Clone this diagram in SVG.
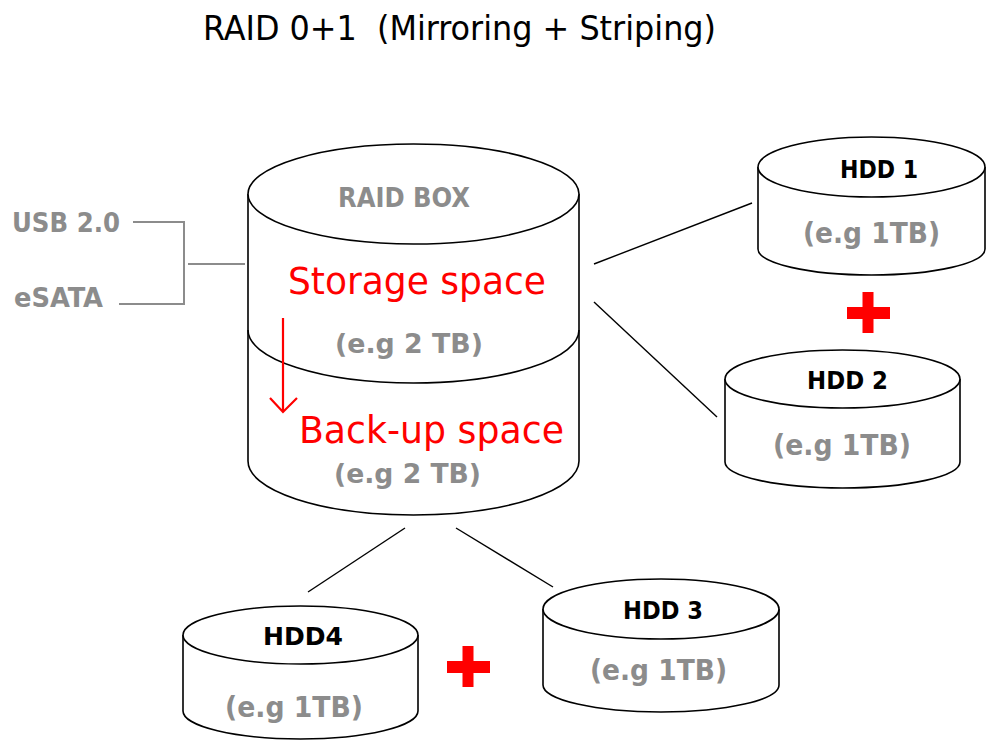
<svg xmlns="http://www.w3.org/2000/svg" width="987" height="740" viewBox="0 0 987 740">
<defs>
<style>
text{font-family:"DejaVu Sans Condensed","DejaVu Sans","Liberation Sans",sans-serif;}
.title{font-size:34px;fill:#000;white-space:pre;}
.gray{font-weight:bold;fill:#8c8c8c;}
.red{fill:#ff0000;font-size:37px;}
.hdd{font-weight:bold;fill:#000;font-size:25px;}
.cyl{fill:none;stroke:#000;stroke-width:1.6;}
.top{fill:#fff;stroke:#000;stroke-width:1.6;}
.conn{fill:none;stroke:#000;stroke-width:1.4;}
.gconn{fill:none;stroke:#8c8c8c;stroke-width:2;}
.plus{fill:#ff0000;}
</style>
</defs>
<rect width="987" height="740" fill="#fff"/>

<g id="title">
<text class="title" x="203" y="40" textLength="513" lengthAdjust="spacingAndGlyphs">RAID 0+1  (Mirroring + Striping)</text>
</g>

<g id="connectors">
<path class="gconn" d="M133,222 H184 V304 H119"/>
<path class="gconn" d="M188,264 H245"/>
<line class="conn" x1="594" y1="264" x2="752" y2="203"/>
<line class="conn" x1="594" y1="302" x2="717" y2="417"/>
<line class="conn" x1="405" y1="528" x2="308" y2="592"/>
<line class="conn" x1="456" y1="528" x2="553" y2="587"/>
</g>

<g id="usb">
<text class="gray" x="12" y="232" font-size="26" textLength="108" lengthAdjust="spacingAndGlyphs">USB 2.0</text>
</g>
<g id="esata">
<text class="gray" x="14" y="307" font-size="26" textLength="89" lengthAdjust="spacingAndGlyphs">eSATA</text>
</g>

<g id="raid-box">
<path class="cyl" d="M248,194 V461 M579,194 V461"/>
<path class="cyl" d="M248,330 A165.5,53 0 0 0 579,330"/>
<path class="cyl" d="M248,461 A165.5,54 0 0 0 579,461"/>
<ellipse class="top" cx="413.5" cy="194" rx="165.5" ry="50"/>
<text class="gray" x="338" y="207" font-size="26" textLength="132" lengthAdjust="spacingAndGlyphs">RAID BOX</text>
<text class="red" x="288" y="294" textLength="258" lengthAdjust="spacingAndGlyphs">Storage space</text>
<text class="gray" x="335" y="353" font-size="27" textLength="148" lengthAdjust="spacingAndGlyphs">(e.g 2 TB)</text>
<text class="red" x="299" y="443" textLength="265" lengthAdjust="spacingAndGlyphs">Back-up space</text>
<text class="gray" x="334" y="483" font-size="27" textLength="147" lengthAdjust="spacingAndGlyphs">(e.g 2 TB)</text>
<path d="M283,318 V412 M270,398 L283,412 L297,398" fill="none" stroke="#ff0000" stroke-width="2.2"/>
</g>

<g id="hdd1">
<path class="cyl" d="M758,167 V249 M985,167 V249 M758,249 A113.5,26 0 0 0 985,249"/>
<ellipse class="top" cx="871.5" cy="167" rx="113.5" ry="30"/>
<text class="hdd" x="840" y="178" textLength="78" lengthAdjust="spacingAndGlyphs">HDD 1</text>
<text class="gray" x="803" y="243" font-size="28" textLength="137" lengthAdjust="spacingAndGlyphs">(e.g 1TB)</text>
</g>

<g id="plus1">
<rect class="plus" x="847" y="307" width="43" height="12"/>
<rect class="plus" x="862.5" y="292" width="11" height="41"/>
</g>

<g id="hdd2">
<path class="cyl" d="M725,379 V462 M960,379 V462 M725,462 A117.5,26 0 0 0 960,462"/>
<ellipse class="top" cx="842.5" cy="379" rx="117.5" ry="29"/>
<text class="hdd" x="807" y="389" textLength="81" lengthAdjust="spacingAndGlyphs">HDD 2</text>
<text class="gray" x="773" y="455" font-size="28" textLength="138" lengthAdjust="spacingAndGlyphs">(e.g 1TB)</text>
</g>

<g id="hdd3">
<path class="cyl" d="M543,609 V685 M779,609 V685 M543,685 A118,27 0 0 0 779,685"/>
<ellipse class="top" cx="661" cy="609" rx="118" ry="30"/>
<text class="hdd" x="623" y="619" textLength="80" lengthAdjust="spacingAndGlyphs">HDD 3</text>
<text class="gray" x="590" y="680" font-size="28" textLength="137" lengthAdjust="spacingAndGlyphs">(e.g 1TB)</text>
</g>

<g id="plus2">
<rect class="plus" x="447" y="661" width="43" height="12"/>
<rect class="plus" x="462.5" y="646" width="11" height="41"/>
</g>

<g id="hdd4">
<path class="cyl" d="M183,635 V711 M418,635 V711 M183,711 A117.5,28 0 0 0 418,711"/>
<ellipse class="top" cx="300.5" cy="635" rx="117.5" ry="29"/>
<text class="hdd" x="263" y="645" textLength="80" lengthAdjust="spacingAndGlyphs">HDD4</text>
<text class="gray" x="225" y="717" font-size="28" textLength="138" lengthAdjust="spacingAndGlyphs">(e.g 1TB)</text>
</g>
</svg>
